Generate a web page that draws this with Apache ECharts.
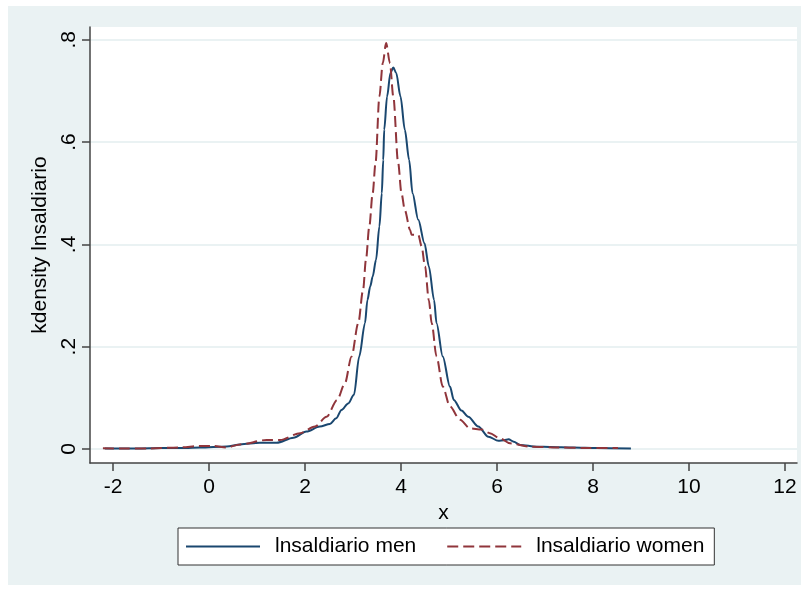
<!DOCTYPE html>
<html>
<head>
    <meta charset='UTF-8'>
    <script src="https://cdn.jsdelivr.net/npm/echarts@6/dist/echarts.min.js"></script>
    <style>
        html, body { margin: 0; padding: 0; background: #fff; }
        #chart { width: 806px; height: 589px; }
    </style>
    <title>kdensity lnsaldiario</title>
</head>
<body>
    <div id="chart"></div>
    <script>
        // kernel density estimates
        var menX = [-2.17, -1.5, -1.0, -0.5, -0.19, 0.37, 0.65, 1.06, 1.41, 1.76, 2.03, 2.31, 2.52, 2.65, 2.76, 2.90, 3.02, 3.13, 3.25,
            3.30, 3.36, 3.41, 3.48, 3.55, 3.60, 3.63, 3.65, 3.71, 3.78, 3.84, 3.90, 3.99, 4.08, 4.17, 4.24, 4.36, 4.49, 4.58, 4.69,
            4.74, 4.87, 5.02, 5.10, 5.26, 5.40, 5.61, 5.82, 6.03, 6.15, 6.24, 6.35, 6.48, 6.83, 7.1, 7.58, 8.08, 8.79];
        var menY = [0.001, 0.001, 0.002, 0.002, 0.003, 0.005, 0.009, 0.012, 0.012, 0.022, 0.034, 0.044, 0.049, 0.060, 0.076, 0.089, 0.106, 0.181, 0.246,
            0.291, 0.318, 0.337, 0.370, 0.435, 0.500, 0.565, 0.624, 0.689, 0.735, 0.746, 0.735, 0.689, 0.624, 0.565, 0.500, 0.448, 0.402, 0.357, 0.291,
            0.246, 0.181, 0.122, 0.096, 0.075, 0.063, 0.044, 0.024, 0.016, 0.017, 0.019, 0.014, 0.008, 0.0045, 0.004, 0.003, 0.002, 0.001];

        var womenX = [-2.21, -1.85, -1.23, -0.6, -0.19, 0.09, 0.37, 0.65, 1.2, 1.48, 1.9, 2.21, 2.45, 2.67, 2.83, 2.97, 3.11, 3.21, 3.27,
            3.34, 3.41, 3.47, 3.55, 3.62, 3.69, 3.77, 3.84, 3.94, 4.01, 4.08, 4.19, 4.22, 4.36, 4.43, 4.50, 4.58, 4.64, 4.74, 4.87,
            5.02, 5.23, 5.44, 5.68, 5.85, 6.06, 6.27, 6.69, 7.24, 7.8, 8.52];
        var womenY = [0.0013, 0.001, 0.001, 0.003, 0.006, 0.006, 0.003, 0.009, 0.0176, 0.0176, 0.031, 0.044, 0.063, 0.096, 0.128, 0.181, 0.246, 0.311, 0.370,
            0.435, 0.500, 0.560, 0.689, 0.754, 0.7935, 0.754, 0.689, 0.560, 0.500, 0.467, 0.428, 0.419, 0.419, 0.396, 0.357, 0.291, 0.246, 0.181, 0.122,
            0.083, 0.057, 0.040, 0.038, 0.031, 0.021, 0.011, 0.0045, 0.003, 0.002, 0.002];

        var xTicks = [-2, 0, 2, 4, 6, 8, 10, 12];
        var yTicks = [0, 0.2, 0.4, 0.6, 0.8];
        var seriesNames = ['lnsaldiario men', 'lnsaldiario women'];

        function pairs(xs, ys) {
            return xs.map(function (x, i) { return [x, ys[i]]; });
        }

        var font = "'Liberation Sans', Arial, sans-serif";
        var myChart = echarts.init(document.getElementById('chart'), null, { renderer: 'canvas' });

        var option = {
            backgroundColor: '#ffffff',
            animation: false,
            graphic: [{
                type: 'rect',
                z: -10,
                silent: true,
                shape: { x: 8, y: 6, width: 793, height: 579 },
                style: { fill: '#eaf2f3' }
            }],
            grid: {
                left: 90,
                right: 9,
                top: 27,
                bottom: 126,
                show: true,
                backgroundColor: '#ffffff',
                borderWidth: 0
            },
            legend: {
                left: 178,
                top: 528,
                padding: [8, 10, 8, 7],
                backgroundColor: '#ffffff',
                borderColor: '#333',
                borderWidth: 1,
                borderRadius: 0,
                itemWidth: 74,
                itemHeight: 14,
                itemGap: 30,
                data: seriesNames,
                itemStyle: { opacity: 0 },
                textStyle: {
                    fontFamily: font,
                    fontSize: 21,
                    color: '#000',
                    padding: [0, 0, 0, 10]
                }
            },
            xAxis: {
                type: 'value',
                min: -2.479,
                max: 12.25,
                name: 'x',
                nameLocation: 'middle',
                nameGap: 33,
                nameTextStyle: { fontFamily: font, fontSize: 21, color: '#000' },
                axisLine: { onZero: false, lineStyle: { color: '#444', width: 1.5 } },
                axisTick: { length: 8, lineStyle: { color: '#444', width: 1.5 }, customValues: xTicks },
                axisLabel: { fontFamily: font, fontSize: 21, color: '#000', margin: 14, customValues: xTicks },
                splitLine: { show: false }
            },
            yAxis: {
                type: 'value',
                min: -0.0274,
                max: 0.825,
                name: 'kdensity lnsaldiario',
                nameLocation: 'middle',
                nameGap: 32,
                nameTextStyle: { fontFamily: font, fontSize: 21, color: '#000' },
                axisLine: { show: true, onZero: false, lineStyle: { color: '#444', width: 1.5 } },
                axisTick: { show: true, length: 8, lineStyle: { color: '#444', width: 1.5 }, customValues: yTicks },
                axisLabel: {
                    fontFamily: font,
                    fontSize: 21,
                    color: '#000',
                    rotate: 90,
                    margin: 10,
                    customValues: yTicks,
                    formatter: function (v) {
                        if (v === 0) return '0';
                        return String(v.toFixed(1)).replace(/^0/, '');
                    }
                },
                splitLine: { show: true, lineStyle: { color: '#eaf2f3', width: 2 } }
            },
            series: [{
                name: seriesNames[0],
                type: 'line',
                data: pairs(menX, menY),
                symbol: 'none',
                smooth: 0.3,
                smoothMonotone: 'x',
                color: '#1a476f',
                lineStyle: { color: '#1a476f', width: 2 }
            }, {
                name: seriesNames[1],
                type: 'line',
                data: pairs(womenX, womenY),
                symbol: 'none',
                smooth: 0.3,
                smoothMonotone: 'x',
                color: '#90353b',
                lineStyle: { color: '#90353b', width: 2, type: [11, 5] }
            }]
        };

        myChart.setOption(option);
        window.addEventListener('resize', myChart.resize);
    </script>
</body>
</html>
